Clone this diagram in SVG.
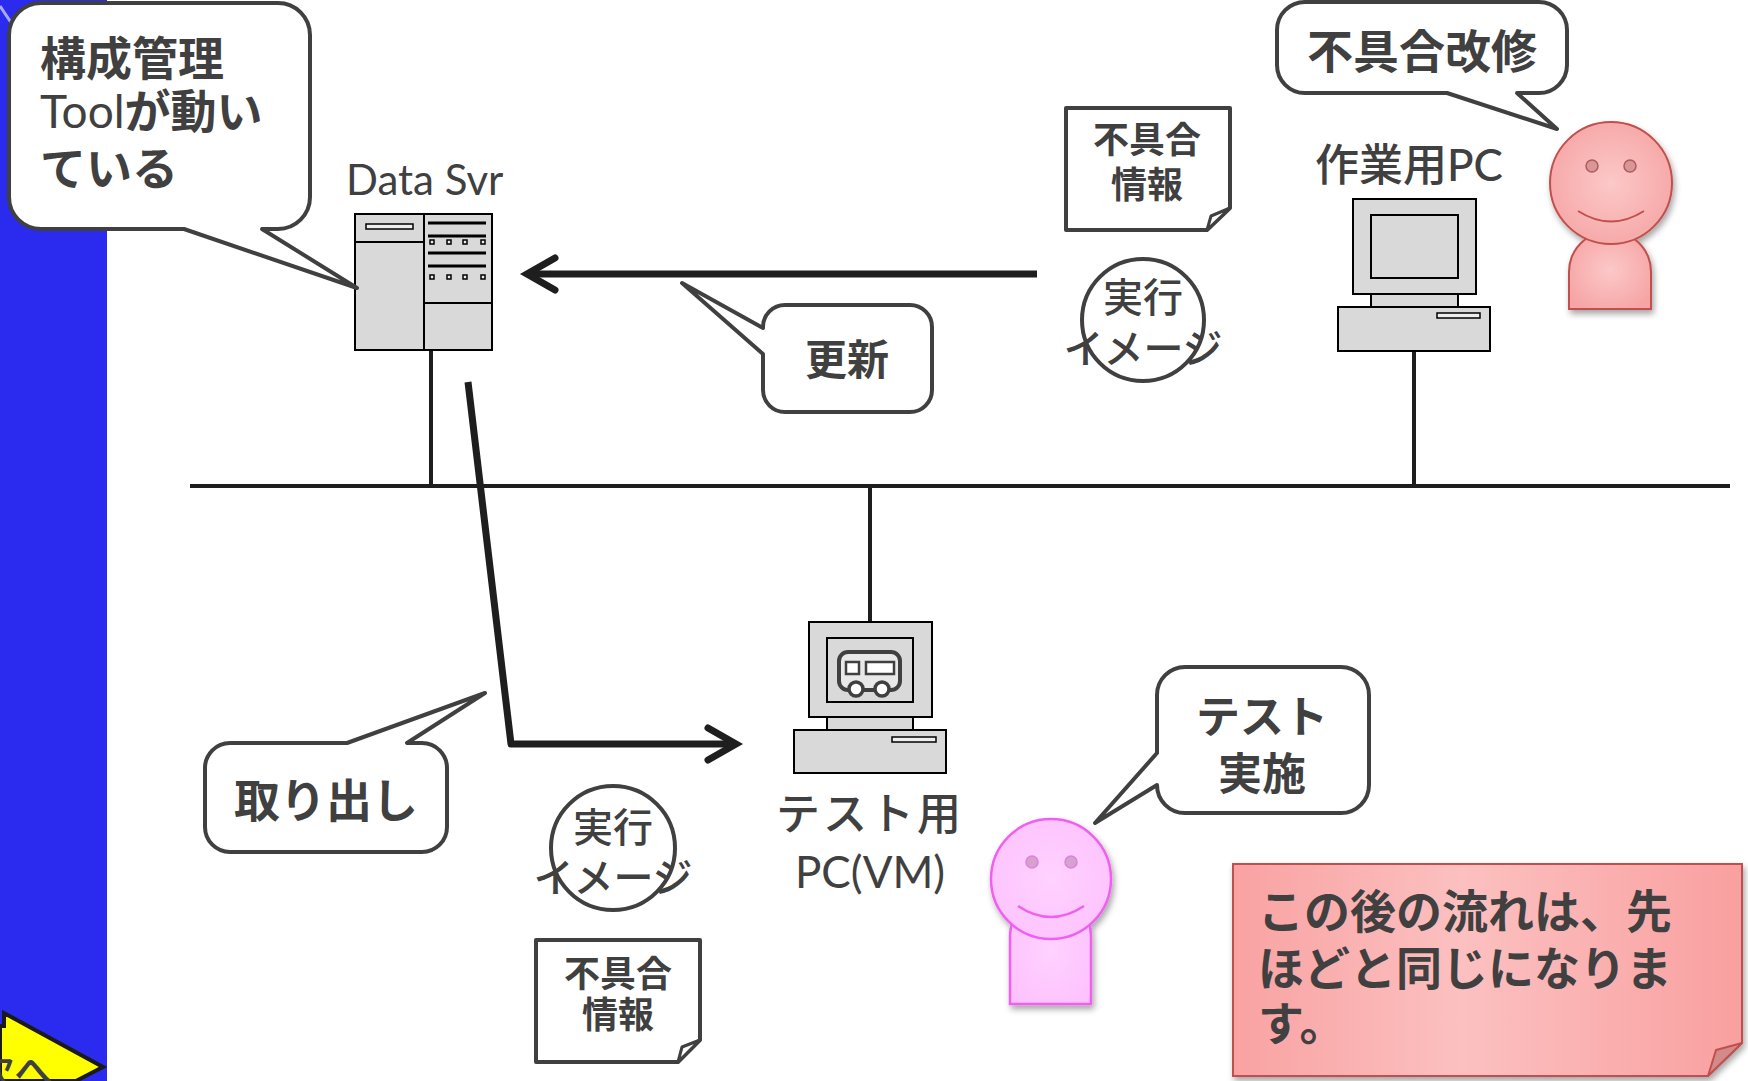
<svg xmlns="http://www.w3.org/2000/svg" width="1748" height="1081" viewBox="0 0 1748 1081">
  <defs>
    <style>
      .jp { font-family: "Noto Sans CJK JP", sans-serif; fill: #404040; }
      .lat { font-family: Lato, "Noto Sans CJK JP", sans-serif; fill: #404040; }
      .b { font-weight: bold; }
      .m { font-weight: 500; }
      .callout { fill: #ffffff; stroke: #404040; stroke-width: 4; stroke-linejoin: round; }
      .note { fill: #ffffff; stroke: #404040; stroke-width: 4; stroke-linejoin: round; }
      .hw { fill: #d9d9d9; stroke: #000000; stroke-width: 2; }
      .wire { fill: none; stroke: #1e1e1e; stroke-width: 4; }
      .flow { fill: none; stroke: #1e1e1e; stroke-width: 7; stroke-linejoin: round; }
      .ring { fill: none; stroke: #404040; stroke-width: 4; }
    </style>
    <marker id="chev" markerUnits="userSpaceOnUse" viewBox="-34 -24 46 48" refX="0" refY="0" markerWidth="46" markerHeight="48" orient="auto">
      <path d="M-28,-16 L0,0 L-28,16" fill="none" stroke="#1e1e1e" stroke-width="7" stroke-linecap="round" stroke-linejoin="miter"/>
    </marker>
    <radialGradient id="salmon" cx="0.5" cy="0.5" r="0.6">
      <stop offset="0" stop-color="#fcc8c8"/>
      <stop offset="1" stop-color="#f6a4a4"/>
    </radialGradient>
    <radialGradient id="orchid" cx="0.5" cy="0.5" r="0.6">
      <stop offset="0" stop-color="#ffd2ff"/>
      <stop offset="1" stop-color="#fdc2fd"/>
    </radialGradient>
    <linearGradient id="memo" x1="0" y1="0" x2="1" y2="0">
      <stop offset="0" stop-color="#f9a2a2"/>
      <stop offset="0.45" stop-color="#fcc0c0"/>
      <stop offset="1" stop-color="#f9a0a0"/>
    </linearGradient>
    <filter id="shade" x="-20%" y="-20%" width="140%" height="140%">
      <feDropShadow dx="2" dy="4" stdDeviation="3" flood-color="#000" flood-opacity="0.35"/>
    </filter>
  </defs>

  <!-- side band with the "next" button -->
  <g id="sideband">
    <rect x="0" y="0" width="107" height="1081" fill="#2b2bef"/>
    <path d="M0,6 L12,24" stroke="#a8a8ff" stroke-width="3" fill="none"/>
    <polygon points="0,1026 4,1026 4,1013 103,1067 76,1081 0,1081" fill="#ffff00" stroke="#1a1a1a" stroke-width="4" stroke-linejoin="miter"/>
    <text class="jp m" x="-26" y="1086" font-size="40">次へ</text>
  </g>

  <!-- network and flows -->
  <g id="connectors">
    <line class="wire" x1="190" y1="486" x2="1730" y2="486"/>
    <line class="wire" x1="431" y1="351" x2="431" y2="486"/>
    <line class="wire" x1="1414" y1="351" x2="1414" y2="486"/>
    <line class="wire" x1="870" y1="486" x2="870" y2="622"/>
    <line class="flow" x1="1037" y1="274" x2="527" y2="274" marker-end="url(#chev)"/>
    <polyline class="flow" points="468,382 511,744 736,744" marker-end="url(#chev)"/>
  </g>

  <!-- Data Svr -->
  <g id="data-svr">
    <text class="lat" x="346" y="195" font-size="42">Data Svr</text>
    <rect class="hw" x="355" y="214" width="69" height="136"/>
    <rect class="hw" x="424" y="214" width="68" height="136"/>
    <line x1="355" y1="242" x2="424" y2="242" stroke="#000" stroke-width="2"/>
    <line x1="424" y1="303" x2="492" y2="303" stroke="#000" stroke-width="2"/>
    <rect x="366" y="224" width="47" height="5" fill="#eeeeee" stroke="#000" stroke-width="1.5"/>
    <g stroke="#000" stroke-width="3">
      <line x1="428" y1="223" x2="486" y2="223"/>
      <line x1="428" y1="236" x2="486" y2="236"/>
      <line x1="428" y1="253" x2="486" y2="253"/>
      <line x1="428" y1="266" x2="486" y2="266"/>
    </g>
    <g fill="#eeeeee" stroke="#000" stroke-width="1.5">
      <rect x="430" y="240" width="4" height="4"/>
      <rect x="447" y="240" width="4" height="4"/>
      <rect x="463" y="240" width="4" height="4"/>
      <rect x="481" y="240" width="4" height="4"/>
      <rect x="430" y="275" width="4" height="4"/>
      <rect x="447" y="275" width="4" height="4"/>
      <rect x="463" y="275" width="4" height="4"/>
      <rect x="481" y="275" width="4" height="4"/>
    </g>
  </g>

  <!-- callout: config tool -->
  <g id="callout-tool">
    <path class="callout" d="M41,3 H278 A32,32 0 0 1 310,35 V197 A32,32 0 0 1 278,229 H262 L357,288 L184,229 H41 A32,32 0 0 1 9,197 V35 A32,32 0 0 1 41,3 Z"/>
    <text class="jp b" x="40" y="75" font-size="46">構成管理</text>
    <text class="jp b" x="40" y="128" font-size="46"><tspan class="lat" font-weight="normal">Tool</tspan>が動い</text>
    <text class="jp b" x="40" y="185" font-size="46">ている</text>
  </g>

  <!-- callout: update -->
  <g id="callout-update">
    <path class="callout" d="M785,305 H910 A22,22 0 0 1 932,327 V390 A22,22 0 0 1 910,412 H785 A22,22 0 0 1 763,390 V354 L682,283 L763,328 V327 A22,22 0 0 1 785,305 Z"/>
    <text class="jp b" x="847" y="375" font-size="42" text-anchor="middle">更新</text>
  </g>

  <!-- defect info note (top) -->
  <g id="note-top">
    <path class="note" d="M1066,108 H1230 V208 L1207,230 H1066 Z"/>
    <path d="M1230,208 L1211,216 L1207,230 Z" fill="#ffffff" stroke="#404040" stroke-width="3" stroke-linejoin="round"/>
    <text class="jp b" x="1147" y="153" font-size="36" text-anchor="middle">不具合</text>
    <text class="jp b" x="1147" y="198" font-size="36" text-anchor="middle">情報</text>
  </g>

  <!-- executable image (top) -->
  <g id="image-top">
    <circle class="ring" cx="1143" cy="320" r="61"/>
    <text class="jp m" x="1143" y="312" font-size="40" text-anchor="middle">実行</text>
    <text class="jp m" x="1143" y="363" font-size="40" text-anchor="middle">イメージ</text>
  </g>

  <!-- work PC -->
  <g id="work-pc">
    <text class="jp m" x="1315" y="181" font-size="44">作業用<tspan class="lat">PC</tspan></text>
    <rect class="hw" x="1353" y="199" width="123" height="95"/>
    <rect class="hw" x="1371" y="215" width="87" height="63"/>
    <rect class="hw" x="1371" y="294" width="87" height="13"/>
    <rect class="hw" x="1338" y="307" width="152" height="44"/>
    <rect x="1437" y="313" width="43" height="5" fill="#eeeeee" stroke="#000" stroke-width="1.5"/>
  </g>

  <!-- callout: bug fix -->
  <g id="callout-fix">
    <path class="callout" d="M1305,2 H1539 A28,28 0 0 1 1567,30 V65 A28,28 0 0 1 1539,93 H1517 L1557,129 L1447,93 H1305 A28,28 0 0 1 1277,65 V30 A28,28 0 0 1 1305,2 Z"/>
    <text class="jp b" x="1422" y="68" font-size="46" text-anchor="middle">不具合改修</text>
  </g>

  <!-- developer -->
  <g id="developer" filter="url(#shade)">
    <path d="M1569,309 V272 A41,41 0 0 1 1651,272 V309 Z" fill="url(#salmon)" stroke="#c0504d" stroke-width="2"/>
    <circle cx="1611" cy="183" r="61" fill="url(#salmon)" stroke="#c0504d" stroke-width="2"/>
    <circle cx="1592" cy="166" r="6" fill="#d99696" stroke="#b05a5a" stroke-width="1.5"/>
    <circle cx="1630" cy="166" r="6" fill="#d99696" stroke="#b05a5a" stroke-width="1.5"/>
    <path d="M1578,211 Q1611,232 1644,211" fill="none" stroke="#c0504d" stroke-width="2"/>
  </g>

  <!-- callout: take out -->
  <g id="callout-takeout">
    <path class="callout" d="M230,743 H347 L485,693 L407,743 H422 A25,25 0 0 1 447,768 V827 A25,25 0 0 1 422,852 H230 A25,25 0 0 1 205,827 V768 A25,25 0 0 1 230,743 Z"/>
    <text class="jp b" x="326" y="817" font-size="46" text-anchor="middle">取り出し</text>
  </g>

  <!-- executable image (bottom) -->
  <g id="image-bottom">
    <circle class="ring" cx="613" cy="848" r="62"/>
    <text class="jp m" x="613" y="842" font-size="40" text-anchor="middle">実行</text>
    <text class="jp m" x="613" y="892" font-size="40" text-anchor="middle">イメージ</text>
  </g>

  <!-- defect info note (bottom) -->
  <g id="note-bottom">
    <path class="note" d="M536,940 H700 V1040 L678,1062 H536 Z"/>
    <path d="M700,1040 L682,1047 L678,1062 Z" fill="#ffffff" stroke="#404040" stroke-width="3" stroke-linejoin="round"/>
    <text class="jp b" x="618" y="987" font-size="36" text-anchor="middle">不具合</text>
    <text class="jp b" x="618" y="1028" font-size="36" text-anchor="middle">情報</text>
  </g>

  <!-- test PC (VM) -->
  <g id="test-pc">
    <rect class="hw" x="809" y="622" width="123" height="95"/>
    <rect class="hw" x="827" y="638" width="86" height="64"/>
    <rect class="hw" x="827" y="717" width="86" height="13"/>
    <rect class="hw" x="794" y="730" width="152" height="43"/>
    <rect x="892" y="737" width="44" height="5" fill="#eeeeee" stroke="#000" stroke-width="1.5"/>
    <rect x="839" y="652" width="61" height="38" rx="9" fill="#e8e8e8" stroke="#404040" stroke-width="4"/>
    <rect x="846" y="662" width="13" height="12" fill="#ffffff" stroke="#404040" stroke-width="2.5"/>
    <rect x="866" y="662" width="28" height="12" fill="#ffffff" stroke="#404040" stroke-width="2.5"/>
    <circle cx="856" cy="689" r="7" fill="#ffffff" stroke="#404040" stroke-width="3.5"/>
    <circle cx="882" cy="689" r="7" fill="#ffffff" stroke="#404040" stroke-width="3.5"/>
    <text class="jp m" x="870" y="830" font-size="44" text-anchor="middle" letter-spacing="3">テスト用</text>
    <text class="lat" x="870" y="888" font-size="44" text-anchor="middle">PC(VM)</text>
  </g>

  <!-- tester -->
  <g id="tester" filter="url(#shade)">
    <path d="M1010,1004 V936 A40.5,40.5 0 0 1 1091,936 V1004 Z" fill="url(#orchid)" stroke="#f060f0" stroke-width="2.5"/>
    <circle cx="1051" cy="879" r="60" fill="url(#orchid)" stroke="#f060f0" stroke-width="2.5"/>
    <circle cx="1032" cy="862" r="6" fill="#d4a2cc" stroke="#e080e0" stroke-width="1.5"/>
    <circle cx="1071" cy="862" r="6" fill="#d4a2cc" stroke="#e080e0" stroke-width="1.5"/>
    <path d="M1018,906 Q1051,928 1084,906" fill="none" stroke="#f060f0" stroke-width="2.5"/>
  </g>

  <!-- callout: run test -->
  <g id="callout-test">
    <path class="callout" d="M1185,667 H1341 A28,28 0 0 1 1369,695 V785 A28,28 0 0 1 1341,813 H1185 A28,28 0 0 1 1157,785 L1095,823 L1157,753 V695 A28,28 0 0 1 1185,667 Z"/>
    <text class="jp b" x="1262" y="733" font-size="44" text-anchor="middle">テスト</text>
    <text class="jp b" x="1262" y="790" font-size="44" text-anchor="middle">実施</text>
  </g>

  <!-- memo -->
  <g id="memo-note">
    <path d="M1233,864 H1742 V1043 L1708,1076 H1233 Z" fill="url(#memo)" stroke="#c0504d" stroke-width="2" filter="url(#shade)"/>
    <path d="M1742,1043 L1716,1050 L1708,1076 Z" fill="#d48a8a" stroke="#c0504d" stroke-width="2" stroke-linejoin="round"/>
    <text class="jp b" x="1258" y="928" font-size="46">この後の流れは、先</text>
    <text class="jp b" x="1258" y="985" font-size="46">ほどと同じになりま</text>
    <text class="jp b" x="1258" y="1040" font-size="46">す。</text>
  </g>
</svg>
